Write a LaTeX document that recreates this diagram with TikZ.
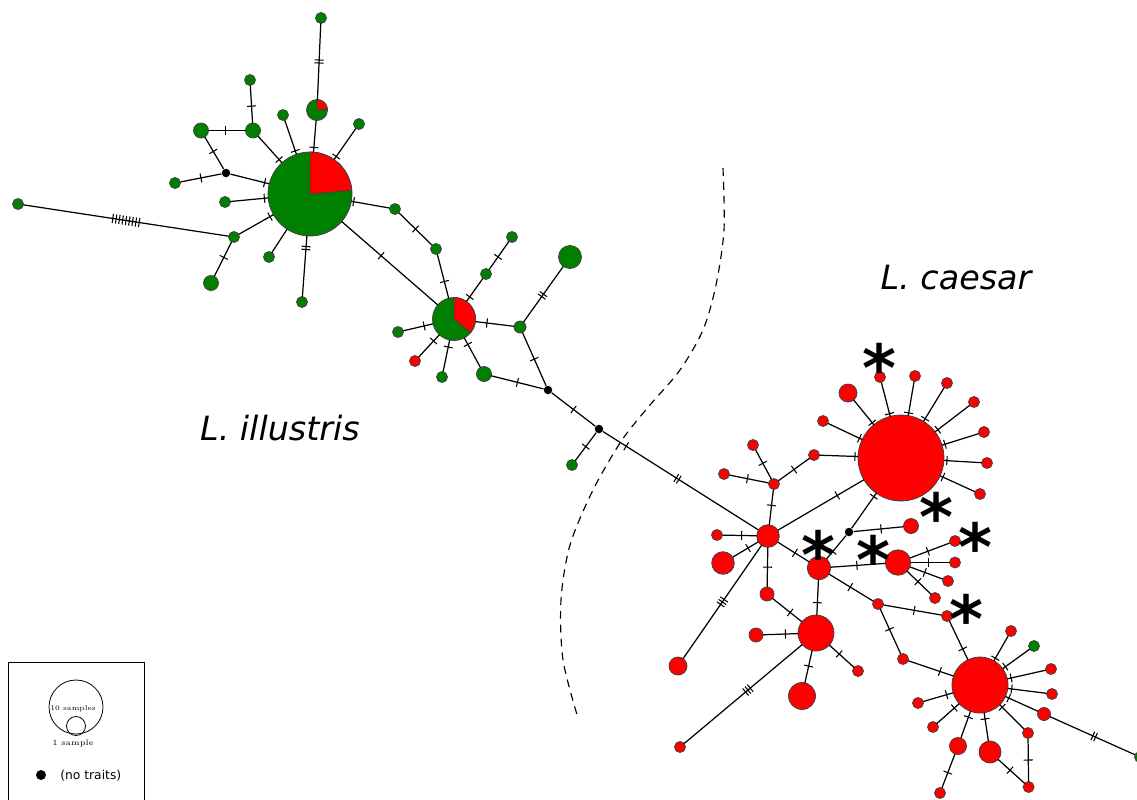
\documentclass[tikz,border=0pt]{standalone}
\usepackage{fontspec}
\setsansfont{DejaVu Sans}
\definecolor{grn}{RGB}{0,128,0}
\newcommand{\tkm}{\rule[-2.6pt]{0.6pt}{5.2pt}}
\newcommand{\tkb}{\tkm\hspace{1.1pt}\tkm}
\newcommand{\tkc}{\tkm\hspace{1.1pt}\tkm\hspace{1.1pt}\tkm}
\tikzset{
  hap/.style={circle, draw=black!75, line width=0.45pt, inner sep=0pt, outer sep=0pt},
  gn/.style={hap, fill=grn, minimum size=#1*0.04cm},
  rd/.style={hap, fill=red, minimum size=#1*0.04cm},
  nt/.style={circle, fill=black, inner sep=0pt, minimum size=0.17cm},
  tk/.style={sloped, inner sep=0pt, outer sep=0pt, pos=#1},
  tk/.default=0.5,
  lnk/.style={line width=0.7pt},
  astk/.style={font=\fontsize{37}{37}\selectfont\sffamily\bfseries, inner sep=0pt, anchor=north, yshift=7.4pt},
  sp/.style={font=\fontsize{19}{22}\selectfont\sffamily\itshape}
}
\begin{document}
\begin{tikzpicture}[x=0.02cm, y=-0.02cm]
\useasboundingbox (0,0) rectangle (1137,799);
% L. illustris
\node[gn=42] (g1) at (310,194) {};
\fill[red, draw=black!75, line width=0.45pt] (g1.center) -- ++(90:0.84cm) arc[start angle=90, end angle=5, radius=0.84cm] -- cycle;
\node[gn=10.5] (p1) at (317,110) {};
\fill[red, draw=black!75, line width=0.45pt] (p1.center) -- ++(90:0.21cm) arc[start angle=90, end angle=5, radius=0.21cm] -- cycle;
\node[gn=5.5] (t1) at (321,18) {};
\node[gn=7.5] (a1) at (253,130.5) {};
\node[gn=7.5] (b1) at (201,130.5) {};
\node[gn=5.5] (c1) at (250,80) {};
\node[nt] (d1) at (226,173) {};
\node[gn=5.5] (e1) at (175,183) {};
\node[gn=5.5] (f1) at (283,115) {};
\node[gn=5.5] (h1) at (359,124) {};
\node[gn=5.5] (i1) at (225,202) {};
\node[gn=5.5] (j1) at (234,237) {};
\node[gn=5.5] (k1) at (18,204) {};
\node[gn=7.5] (l1) at (211,283) {};
\node[gn=5.5] (m1) at (269,257) {};
\node[gn=5.5] (n1) at (302,302) {};
\node[gn=5.5] (o1) at (395,209) {};
\node[gn=5.5] (q1) at (436,249) {};
\node[gn=21.5] (g2) at (454,319) {};
\fill[red, draw=black!75, line width=0.45pt] (g2.center) -- ++(90:0.43cm) arc[start angle=90, end angle=-40, radius=0.43cm] -- cycle;
\node[gn=5.5] (u1) at (486,274) {};
\node[gn=5.5] (v1) at (512,237) {};
\node[gn=6] (w1) at (520,327) {};
\node[gn=11.5] (x1) at (570,257) {};
\node[nt] (d2) at (548,390) {};
\node[gn=5.5] (y1) at (398,332) {};
\node[rd=5.5] (z1) at (415,361) {};
\node[gn=5.5] (s1) at (442,377) {};
\node[gn=7.5] (s2) at (484,374) {};
\node[nt] (d3) at (599,429) {};
\node[gn=5.5] (s3) at (572,465) {};
\draw[lnk] (t1) -- node[tk]{\tkb} (p1);
\draw[lnk] (p1) -- node[tk=.85]{\tkm} (g1);
\draw[lnk] (a1) -- node[tk=.88]{\tkm} (g1);
\draw[lnk] (b1) -- node[tk=.45]{\tkm} (a1);
\draw[lnk] (c1) -- node[tk=.55]{\tkm} (a1);
\draw[lnk] (b1) -- node[tk=.45]{\tkm} (d1);
\draw[lnk] (d1) -- node[tk=.88]{\tkm} (g1);
\draw[lnk] (e1) -- node[tk]{\tkm} (d1);
\draw[lnk] (f1) -- node[tk=.9]{\tkm} (g1);
\draw[lnk] (h1) -- node[tk=.9]{\tkm} (g1);
\draw[lnk] (i1) -- node[tk=.9]{\tkm} (g1);
\draw[lnk] (j1) -- node[tk=.9]{\tkm} (g1);
\draw[lnk] (k1) -- node[tk]{\tkm\hspace{1.3pt}\tkm\hspace{1.3pt}\tkm\hspace{1.3pt}\tkm\hspace{1.3pt}\tkm\hspace{1.3pt}\tkm\hspace{1.3pt}\tkm\hspace{1.3pt}\tkm\hspace{1.3pt}\tkm} (j1);
\draw[lnk] (j1) -- node[tk=.45]{\tkm} (l1);
\draw[lnk] (m1) -- (g1);
\draw[lnk] (n1) -- node[tk=.8]{\tkb} (g1);
\draw[lnk] (g1) -- node[tk=.06]{\tkm} (o1);
\draw[lnk] (o1) -- node[tk]{\tkm} (q1);
\draw[lnk] (q1) -- node[tk=.62]{\tkm} (g2);
\draw[lnk] (g1) -- node[tk=.41]{\tkm} (g2);
\draw[lnk] (g2) -- node[tk=.2]{\tkm} (u1);
\draw[lnk] (u1) -- node[tk=.45]{\tkm} (v1);
\draw[lnk] (g2) -- node[tk=.3]{\tkm} (w1);
\draw[lnk] (w1) -- node[tk=.48]{\tkb} (x1);
\draw[lnk] (w1) -- node[tk]{\tkm} (d2);
\draw[lnk] (g2) -- node[tk=.3]{\tkm} (y1);
\draw[lnk] (g2) -- node[tk=.28]{\tkm} (z1);
\draw[lnk] (g2) -- node[tk=.22]{\tkm} (s1);
\draw[lnk] (g2) -- node[tk=.22]{\tkm} (s2);
\draw[lnk] (s2) -- node[tk]{\tkm} (d2);
\draw[lnk] (d2) -- node[tk]{\tkm} (d3);
\draw[lnk] (d3) -- node[tk]{\tkm} (s3);
% L. caesar
\node[rd=43] (c0) at (901,458) {};
\node[rd=5.5] (ca1) at (880,377) {};
\node[rd=5.5] (ca2) at (915,376) {};
\node[rd=5.5] (ca3) at (947,383) {};
\node[rd=5.5] (ca4) at (974,402) {};
\node[rd=5.5] (ca5) at (984,432) {};
\node[rd=5.5] (ca6) at (987,463) {};
\node[rd=5.5] (ca7) at (980,494) {};
\node[rd=9] (ca8) at (848,393) {};
\node[rd=5.5] (ca9) at (823,421) {};
\node[rd=5.5] (cb1) at (814,455) {};
\node[rd=5.5] (cb2) at (774,484) {};
\node[rd=5.5] (cb3) at (724,474) {};
\node[rd=5.5] (cb4) at (753,445) {};
\node[nt] (d4) at (849,532) {};
\node[rd=7.5] (cb5) at (911,526) {};
\node[rd=11.3] (cr2) at (768,536) {};
\node[rd=11.7] (cr3) at (819,568) {};
\node[rd=12.7] (cr4) at (898,562.5) {};
\node[rd=18] (cr5) at (816,633) {};
\node[rd=28] (cr6) at (980,685) {};
\node[rd=5.5] (cc1) at (717,535) {};
\node[rd=11.3] (cc2) at (723,563) {};
\node[rd=7] (cc3) at (767,594) {};
\node[rd=9] (cc4) at (678,666) {};
\node[rd=5.5] (cd1) at (878,604) {};
\node[rd=5.5] (ce1) at (955,541) {};
\node[rd=5.5] (ce2) at (955,562.5) {};
\node[rd=5.5] (ce3) at (948,581) {};
\node[rd=5.5] (ce4) at (935,598) {};
\node[rd=5.5] (cf1) at (947,616) {};
\node[rd=5.5] (cf2) at (903,659) {};
\node[rd=7] (cg1) at (756,635) {};
\node[rd=5.5] (cg2) at (858,671) {};
\node[rd=13.5] (cg3) at (802,696) {};
\node[rd=5.5] (cg4) at (680,747) {};
\node[rd=5.5] (ch1) at (1011,631) {};
\node[gn=5.5] (ch2) at (1034,646) {};
\node[rd=5.5] (ch3) at (1051,669) {};
\node[rd=5.5] (ch4) at (1052,694) {};
\node[rd=6.5] (ch5) at (1044,714) {};
\node[gn=5.5] (ch6) at (1140,757) {};
\node[rd=5.5] (ch7) at (1028,733) {};
\node[rd=5.5] (ch8) at (1028.6,787) {};
\node[rd=11] (ch9) at (990,752) {};
\node[rd=8.5] (ch10) at (958,746) {};
\node[rd=5.5] (ch11) at (940,793) {};
\node[rd=5.5] (ch12) at (933,727) {};
\node[rd=5.5] (ch13) at (918,703) {};
\draw[lnk] (d3) -- node[tk=.15]{\tkm} node[tk=.48]{\tkb} (cr2);
\foreach \n in {ca1,ca2,ca3,ca4,ca5,ca6,ca7,ca8,ca9,cb1}
  \draw[lnk] (\n) -- node[tk=.92]{\tkm} (c0);
\draw[lnk] (cb2) -- node[tk]{\tkm} (cb1);
\draw[lnk] (cb2) -- node[tk=.54]{\tkm} (cb3);
\draw[lnk] (cb2) -- node[tk=.54]{\tkm} (cb4);
\draw[lnk] (cb2) -- node[tk=.45]{\tkm} (cr2);
\draw[lnk] (cr2) -- node[tk=.69]{\tkm} (c0);
\draw[lnk] (d4) -- node[tk=.9]{\tkm} (c0);
\draw[lnk] (d4) -- node[tk=.55]{\tkm} (cb5);
\draw[lnk] (d4) -- node[tk=.68]{\tkm} (cr3);
\draw[lnk] (cr2) -- node[tk=.44]{\tkm} (cc1);
\draw[lnk] (cr2) -- node[tk=.4]{\tkm} (cc2);
\draw[lnk] (cr2) -- node[tk]{\tkm} (cc3);
\draw[lnk] (cr2) -- node[tk=.55]{\tkm} (cr3);
\draw[lnk] (cr2) -- node[tk]{\tkc} (cc4);
\draw[lnk] (cc3) -- node[tk=.6]{\tkm} (cr5);
\draw[lnk] (cr3) -- node[tk=.65]{\tkm} (cr5);
\draw[lnk] (cr3) -- node[tk=.48]{\tkm} (cr4);
\draw[lnk] (cr3) -- node[tk=.48]{\tkm} (cd1);
\foreach \n in {ce1,ce2,ce3,ce4}
  \draw[lnk] (cr4) -- node[tk=.45]{\tkm} (\n);
\draw[lnk] (cd1) -- node[tk=.53]{\tkm} (cf1);
\draw[lnk] (cd1) -- node[tk=.45]{\tkm} (cf2);
\draw[lnk] (cf1) -- node[tk=.72]{\tkm} (cr6);
\draw[lnk] (cf2) -- node[tk=.7]{\tkm} (cr6);
\foreach \n in {ch1,ch2,ch3,ch4,ch5,ch7}
  \draw[lnk] (\n) -- node[tk=.9]{\tkm} (cr6);
\foreach \n in {ch9,ch10,ch12,ch13}
  \draw[lnk] (\n) -- node[tk=.78]{\tkm} (cr6);
\draw[lnk] (ch5) -- node[tk=.52]{\tkb} (ch6);
\draw[lnk] (ch7) -- node[tk]{\tkm} (ch8);
\draw[lnk] (ch9) -- node[tk=.45]{\tkm} (ch8);
\draw[lnk] (ch10) -- node[tk=.55]{\tkm} (ch11);
\draw[lnk] (cr5) -- node[tk=.36]{\tkm} (cg1);
\draw[lnk] (cr5) -- node[tk=.4]{\tkm} (cg2);
\draw[lnk] (cr5) -- node[tk=.48]{\tkm} (cg3);
\draw[lnk] (cr5) -- node[tk=.46]{\tkc} (cg4);
% asterisks
\foreach \p in {(879,356),(936,505),(818,543),(873,548),(975,535),(966,607)}
  \node[astk] at \p {*};
% species labels
\node[sp] (lil) at (280,428) {L. illustris};
\node[sp] (lca) at (956,278) {L. caesar};
% boundary
\draw[dashed, line width=0.65pt, dash pattern=on 4.5pt off 3.4pt] plot[smooth] coordinates {(723,168) (724,230) (716,285) (703,330) (680,370) (650,405) (622,440) (593,490) (570,545) (561,600) (563,660) (578,718)};
% legend
\draw[line width=0.5pt] (8,805) -- (8,662) -- (144,662) -- (144,805);
\node[hap, draw=black, minimum size=54*0.02cm] (lg10) at (76,707) {};
\node[hap, draw=black, minimum size=19*0.02cm] (lg1) at (76,726) {};
\node[font=\fontsize{4}{5}\selectfont, inner sep=0pt] at (73,709) {10 samples};
\node[font=\fontsize{4.5}{5}\selectfont, inner sep=0pt] at (73,744) {1 sample};
\node[nt, minimum size=10*0.02cm] (lgd) at (41,775) {};
\node[font=\fontsize{7}{8}\selectfont\sffamily, anchor=west, inner sep=0pt] at (60,776) {(no traits)};
\end{tikzpicture}
\end{document}
